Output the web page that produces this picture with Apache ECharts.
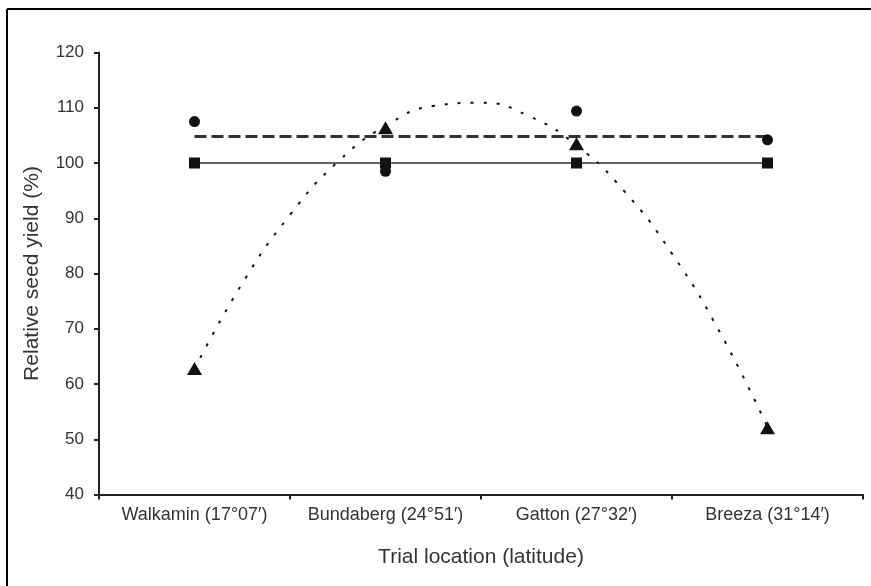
<!DOCTYPE html>
<html>
<head>
<meta charset="utf-8">
<script src="https://cdn.jsdelivr.net/npm/echarts@6/dist/echarts.min.js"></script>
<style>
html,body{margin:0;padding:0;background:#fff;}
#chart{width:871px;height:586px;}
</style>
</head>
<body>
<div id="chart"></div>
<script>
// Data
var categories = ['Walkamin (17°07\u2032)', 'Bundaberg (24°51\u2032)', 'Gatton (27°32\u2032)', 'Breeza (31°14\u2032)'];
var squareValues = [100, 100, 100, 100];
var circleValues = [107.5, 98.5, 109.4, 104.2];
var circleMeanValues = [104.8, 104.8, 104.8, 104.8];
var triangleValues = [62.8, 106.4, 103.5, 52.1];
// dotted trend curve at quarter-category steps
var trendPositions = [0, 0.25, 0.5, 0.75, 1, 1.25, 1.5, 1.75, 2, 2.25, 2.5, 2.75, 3];
var trendValues = [62.7, 78.2, 90.6, 100.2, 106.7, 110.3, 110.9, 108.5, 103.2, 94.9, 83.6, 69.4, 52.2];
var yTicks = [40, 50, 60, 70, 80, 90, 100, 110, 120];

var trendData = trendPositions.map(function (p, i) { return [p, trendValues[i]]; });

var textColor = '#333';
var axisColor = '#222';
var font = 'Liberation Sans, Arial, Helvetica, sans-serif';

var chart = echarts.init(document.getElementById('chart'), null, {renderer: 'canvas'});
chart.setOption({
  backgroundColor: '#fff',
  animation: false,
  grid: {left: 99, right: 8, top: 52.5, bottom: 91.5, containLabel: false},
  graphic: [
    {type: 'line', shape: {x1: 7, y1: 9, x2: 871, y2: 9}, style: {stroke: '#000', lineWidth: 2}},
    {type: 'line', shape: {x1: 7, y1: 9, x2: 7, y2: 586}, style: {stroke: '#000', lineWidth: 2}}
  ],
  xAxis: [
    {
      type: 'category',
      data: categories,
      boundaryGap: true,
      name: 'Trial location (latitude)',
      nameLocation: 'middle',
      nameGap: 52,
      nameTextStyle: {color: textColor, fontSize: 21, fontFamily: font},
      axisLine: {lineStyle: {color: axisColor, width: 2}},
      axisTick: {show: true, length: 5, lineStyle: {color: axisColor, width: 2}},
      axisLabel: {color: textColor, fontSize: 18, fontFamily: font, margin: 12, interval: 0},
      splitLine: {show: false}
    },
    {
      type: 'value',
      min: -0.5,
      max: 3.5,
      show: false
    }
  ],
  yAxis: {
    type: 'value',
    min: 40,
    max: 120,
    interval: 10,
    name: 'Relative seed yield (%)',
    nameLocation: 'middle',
    nameGap: 56,
    nameTextStyle: {color: textColor, fontSize: 21, fontFamily: font},
    axisLine: {show: true, onZero: false, lineStyle: {color: axisColor, width: 2}},
    axisTick: {show: true, length: 5, lineStyle: {color: axisColor, width: 2}},
    axisLabel: {color: textColor, fontSize: 17, fontFamily: font, margin: 15,
      formatter: function (v) { return yTicks.indexOf(v) >= 0 ? String(v) : ''; }},
    splitLine: {show: false}
  },
  series: [
    {
      type: 'line',
      xAxisIndex: 1,
      data: trendData,
      smooth: true,
      showSymbol: false,
      symbol: 'none',
      lineStyle: {color: '#111', width: 2, type: [3, 10]},
      z: 1
    },
    {
      type: 'line',
      data: circleMeanValues,
      showSymbol: false,
      symbol: 'none',
      lineStyle: {color: '#333', width: 3, type: [12, 5]},
      z: 2
    },
    {
      type: 'scatter',
      data: circleValues,
      symbol: 'circle',
      symbolSize: 11,
      itemStyle: {color: '#111', opacity: 1},
      z: 3
    },
    {
      type: 'line',
      data: squareValues,
      symbol: 'rect',
      symbolSize: 11,
      showSymbol: true,
      itemStyle: {color: '#111', borderWidth: 0, opacity: 1},
      lineStyle: {color: '#333', width: 1.5},
      z: 4
    },
    {
      type: 'scatter',
      data: triangleValues,
      symbol: 'triangle',
      symbolSize: [15, 13],
      itemStyle: {color: '#111', opacity: 1},
      z: 5
    }
  ]
});
</script>
</body>
</html>
